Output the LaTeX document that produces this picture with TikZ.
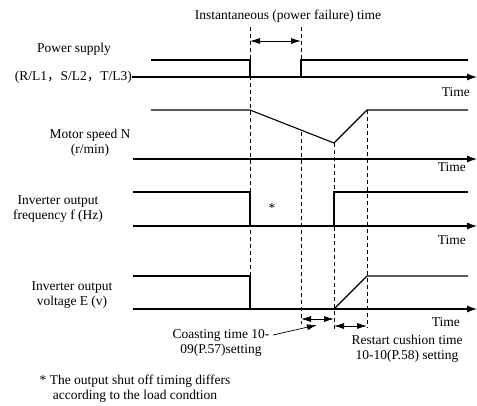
\documentclass[tikz,border=0pt]{standalone}
\usepackage{fontspec}
\setmainfont{Liberation Serif}
\newfontfamily\cjk{Noto Sans CJK SC}
\usetikzlibrary{arrows.meta,positioning}

\tikzset{
  sig/.style={line width=1.1pt},
  guide/.style={line width=0.7pt, dash pattern=on 4pt off 3pt},
  axis/.style={line width=1.1pt, -{Latex[length=10pt,width=7pt]}},
  span/.style={line width=0.8pt, {Latex[length=10pt,width=6pt]}-{Latex[length=10pt,width=6pt]}},
  lead/.style={line width=0.7pt, -{Latex[length=10pt,width=6pt]}},
  lbl/.style={align=center, inner sep=0pt, font=\fontsize{13.5}{15}\selectfont},
}

\begin{document}
\begin{tikzpicture}[x=1pt, y=-1pt]
    \useasboundingbox (0,0) rectangle (477,405);

    % guide lines
    \draw[guide] (250,27) -- (250,276);
    \draw[guide] (301,27) -- (301,60);
    \draw[guide] (301,132) -- (301,324);
    \draw[guide] (334,143) -- (334,331);
    \draw[guide] (367,110) -- (367,328);

    % power failure time
    \node[lbl] (title) at (288,16) {Instantaneous (power failure) time};
    \coordinate (offA) at (250,41);
    \coordinate (offB) at (301,41);
    \draw[span] (offA) -- (offB);

    % Power supply
    \node[lbl] (supply) at (74,49) {Power supply};
    \node[lbl, anchor=east] (phases) at (132,77) {(R/L1{\cjk ，}S/L2{\cjk ，}T/L3)};
    \draw[axis] (phases.east) -- (477,77);
    \draw[sig] (151,60) -- (250,60) -- (250,77);
    \draw[sig] (301,77) -- (301,60) -- (468,60);

    % Motor speed
    \node[lbl] (speed) at (90,143) {Motor speed N\\(r/min)};
    \draw[axis] (133,159) -- (477,159);
    \draw[sig] (151,110) -- (250,110) -- (334,143) -- (367,110) -- (468,110);

    % Output frequency
    \node[lbl] (freq) at (58,209) {Inverter output\\frequency f (Hz)};
    \draw[axis] (133,226) -- (477,226);
    \draw[sig] (133,192) -- (250,192) -- (250,226);
    \draw[sig] (334,226) -- (334,192) -- (468,192);
    \node[lbl] (star) at (272,208) {*};

    % Output voltage
    \node[lbl] (volt) at (72,295) {Inverter output\\voltage E (v)};
    \draw[axis] (133,309) -- (477,309);
    \draw[sig] (133,276) -- (250,276) -- (250,309);
    \draw[sig] (334,309) -- (367,276) -- (468,276);

    \foreach \x/\y/\n in {470/92/1, 466/167/2, 466/240/3, 460/322/4}
        \node[lbl, anchor=east] (time\n) at (\x,\y) {Time};

    % coasting and cushion times
    \coordinate (coastA) at (301,319);
    \coordinate (coastB) at (334,319);
    \draw[span] (coastA) -- (coastB);
    \coordinate (cushA) at (334,326);
    \coordinate (cushB) at (367,326);
    \draw[span] (cushA) -- (cushB);

    \node[lbl] (coast) at (221,343) {Coasting time 10-\\09(P.57)setting};
    \coordinate (coastFrom) at (273,335);
    \coordinate (coastTo) at (317,325);
    \draw[lead] (coastFrom) -- (coastTo);
    \node[lbl] (cushion) at (407,349) {Restart cushion time\\10-10(P.58) setting};

    % footnote
    \node[lbl] (note) at (135,389) {* The output shut off timing differs\\according to the load condtion};
\end{tikzpicture}
\end{document}
